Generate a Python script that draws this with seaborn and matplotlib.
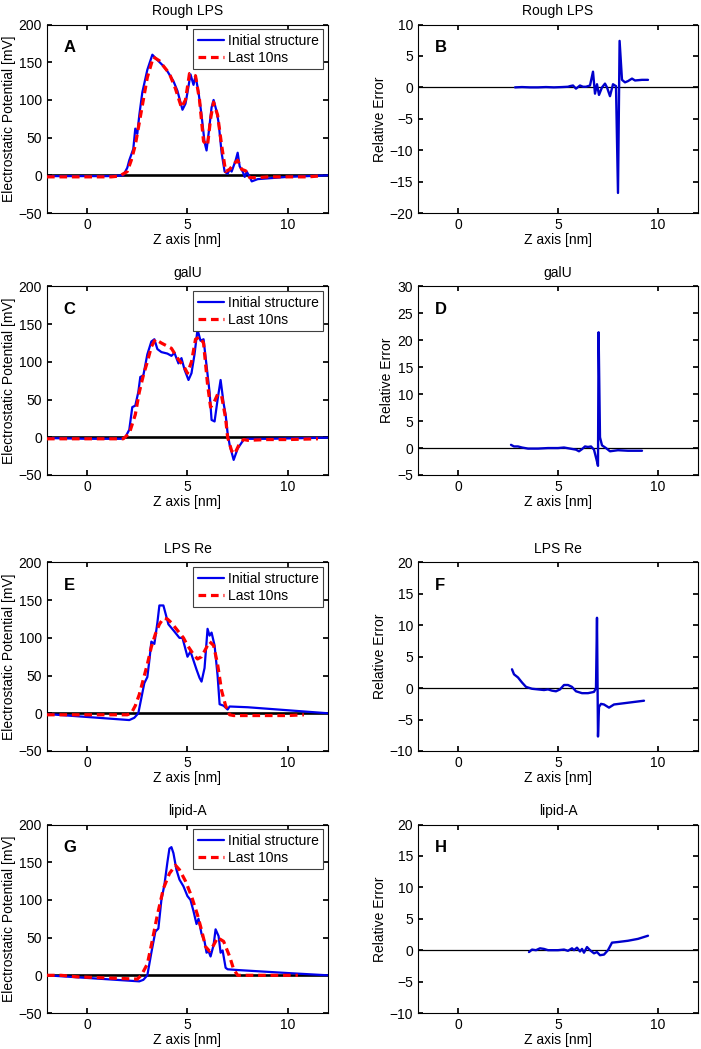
import pandas as pd
import seaborn as sns
import matplotlib
matplotlib.use("Agg")
import matplotlib.pyplot as plt

# ---- data ----
# Rough LPS
A_init_x = [-2, -1, 0, 1, 1.5, 1.8, 2.0, 2.1, 2.3, 2.4, 2.5, 2.6, 2.75, 3.0, 3.25,
            3.5, 3.8, 4.0, 4.3, 4.5, 4.75, 4.9, 5.0, 5.15, 5.3, 5.4, 5.55, 5.7, 5.85, 5.95,
            6.05, 6.2, 6.3, 6.45, 6.55, 6.7, 6.85, 7.0, 7.1, 7.2, 7.4, 7.5, 7.6, 7.75, 7.85,
            7.95, 8.1, 8.2, 8.5, 9, 10, 11, 12]
A_init_y = [-1, -1, -1, -1, -0.5, 0, 10, 20, 35, 62, 55, 80, 110, 140, 160,
            153, 145, 138, 125, 112, 87, 95, 110, 134, 120, 132, 110, 80, 44, 33,
            55, 90, 100, 85, 70, 30, 5, 2, 8, 5, 20, 30, 12, 5, -2,
            5, -2, -8, -5, -4, -2, -1, 0]
A_last_x = [-2, -1, 0, 1, 1.2, 1.6, 2.0, 2.2, 2.4, 2.6, 2.8, 3.0, 3.3, 3.6, 3.8,
            4.1, 4.4, 4.7, 4.9, 5.1, 5.4, 5.6, 5.8, 6.0, 6.15, 6.3, 6.5, 6.7, 6.9, 7.1,
            7.3, 7.5, 7.7, 7.9, 8.1, 8.5, 9, 10, 11, 11.5]
A_last_y = [-2, -2, -2, -2, -2, -1, 5, 20, 40, 70, 100, 130, 157, 152, 145,
            135, 115, 90, 100, 135, 132, 100, 45, 40, 75, 97, 80, 40, 5, 8,
            15, 20, 8, 6, -3, -3, -2, -2, -2, -1]
B_err_x = [2.85, 3.2, 3.6, 4.0, 4.4, 4.8, 5.2, 5.5, 5.6, 5.75, 5.9, 6.1, 6.25, 6.4, 6.6,
           6.75, 6.85, 6.95, 7.05, 7.2, 7.35, 7.45, 7.6, 7.75, 7.9, 8.0, 8.08, 8.2, 8.35, 8.5,
           8.7, 8.85, 9.2, 9.5]
B_err_y = [0, 0.05, 0, 0, 0.05, 0, 0.05, 0.1, 0.2, 0.3, -0.2, 0.3, 0.1, 0.1, 0.3,
           2.5, -1, 0.5, -1.2, 0, 0.6, 0, -1.4, 0.5, 0.2, -16.8, 7.4, 1.2, 0.8, 1.0,
           1.4, 1.1, 1.2, 1.2]

# galU
C_init_x = [-2, -1, 0, 1, 1.7, 1.9, 2.1, 2.25, 2.4, 2.55, 2.65, 2.8, 3.0, 3.2, 3.35,
            3.5, 3.7, 4.0, 4.2, 4.35, 4.55, 4.7, 4.85, 5.05, 5.2, 5.35, 5.5, 5.65, 5.8, 5.95,
            6.1, 6.2, 6.35, 6.5, 6.65, 6.8, 6.9, 7.0, 7.1, 7.3, 7.5, 7.8, 8, 9, 10, 11, 12]
C_init_y = [-1, -1.5, -2, -2, -2, 0, 10, 40, 42, 60, 80, 82, 110, 127, 130,
            117, 113, 111, 108, 112, 98, 105, 90, 76, 85, 110, 143, 128, 130, 95,
            60, 23, 21, 50, 76, 45, 30, 5, -10, -30, -15, -3, -2, -2, -1.5, -1, -0.5]
C_last_x = [-2, -1, 0, 1, 1.8, 2.1, 2.4, 2.6, 2.8, 3.0, 3.2, 3.4, 3.7, 4.2, 4.5,
            4.8, 5.0, 5.2, 5.4, 5.6, 5.8, 6.0, 6.15, 6.3, 6.5, 6.7, 6.9, 7.0, 7.2, 7.35,
            7.6, 7.8, 8, 9, 10, 11.5]
C_last_y = [-2, -2, -2, -2, -2, 5, 30, 60, 82, 100, 120, 130, 125, 118, 105,
            95, 85, 100, 130, 133, 125, 70, 40, 45, 57, 55, 25, 0, -18, -22,
            -8, -3, -4, -3, -3, -2]
D_err_x = [2.65, 2.8, 3.0, 3.2, 3.5, 4.0, 4.5, 5.0, 5.3, 5.6, 5.9, 6.05, 6.2, 6.35, 6.5,
           6.65, 6.8, 6.95, 7.0, 7.03, 7.1, 7.2, 7.4, 7.6, 8.0, 8.5, 9.2]
D_err_y = [0.6, 0.3, 0.3, 0.1, -0.1, -0.1, 0, 0, 0.1, -0.1, -0.3, -0.6, -0.2, 0.3, 0.2,
           0.3, -0.3, -2.5, -3.3, 21.5, 2, 0.5, 0, -0.6, -0.4, -0.5, -0.5]

# LPS Re
E_init_x = [-2, 2.1, 2.35, 2.55, 2.7, 2.85, 3.0, 3.1, 3.2, 3.35, 3.5, 3.6, 3.8, 3.9, 4.05,
            4.3, 4.6, 4.75, 4.85, 5.0, 5.15, 5.3, 5.45, 5.6, 5.7, 5.85, 6.0, 6.1, 6.2, 6.35,
            6.5, 6.6, 6.8, 7.0, 7.1, 8, 10, 12]
E_init_y = [-1, -9, -6, 0, 20, 40, 48, 70, 95, 92, 120, 143, 143, 133, 118,
            110, 100, 100, 90, 75, 82, 70, 58, 47, 42, 60, 112, 103, 107, 90,
            50, 12, 10, 5, 9, 8, 4, 0]
E_last_x = [-2, -1, 0, 1, 2.0, 2.2, 2.4, 2.6, 2.8, 3.0, 3.2, 3.4, 3.6, 3.8, 4.0,
            4.2, 4.5, 4.8, 5.0, 5.3, 5.5, 5.7, 5.9, 6.1, 6.3, 6.5, 6.7, 6.9, 7.1, 7.3,
            8, 9, 10, 10.8]
E_last_y = [-2, -2, -2, -2, -2, 0, 10, 25, 45, 65, 88, 105, 118, 126, 125,
            120, 110, 100, 90, 78, 72, 75, 85, 95, 90, 65, 30, 10, -2, -3,
            -3, -3, -3, -2]
F_err_x = [2.7, 2.8, 3.0, 3.2, 3.4, 3.7, 4.0, 4.3, 4.5, 4.7, 4.9, 5.1, 5.3, 5.5, 5.7,
           5.9, 6.2, 6.5, 6.8, 6.9, 6.95, 7.0, 7.05, 7.15, 7.3, 7.55, 7.8, 8.3, 9.3]
F_err_y = [3.0, 2.2, 1.7, 0.9, 0.2, -0.1, -0.2, -0.3, -0.2, -0.4, -0.5, -0.2, 0.5, 0.5, 0.2,
           -0.5, -0.8, -0.8, -0.6, 0, 11.2, -7.7, -3, -2.5, -2.6, -3.1, -2.6, -2.4, -2.0]

# lipid-A
G_init_x = [-2, 2.6, 2.8, 3.0, 3.2, 3.4, 3.55, 3.7, 3.85, 4.0, 4.1, 4.2, 4.3, 4.45, 4.6,
            4.8, 5.0, 5.15, 5.3, 5.45, 5.55, 5.7, 5.85, 5.95, 6.05, 6.15, 6.3, 6.4, 6.55, 6.65,
            6.75, 6.9, 7.0, 7.5, 10, 12]
G_init_y = [0, -8, -6, 0, 30, 58, 62, 100, 120, 150, 168, 170, 162, 140, 127,
            118, 105, 100, 85, 68, 75, 55, 45, 30, 32, 25, 40, 61, 52, 30,
            33, 10, 8, 7, 3, 0]
G_last_x = [-2, -1.3, -0.5, 0.5, 1.5, 2.5, 2.7, 3.0, 3.2, 3.5, 3.8, 4.1, 4.4, 4.6, 4.9,
            5.2, 5.5, 5.7, 5.9, 6.1, 6.3, 6.5, 6.8, 7.1, 7.3, 7.5, 8, 9, 10.5]
G_last_y = [0, 0, -2, -3, -4, -5, 0, 15, 40, 80, 115, 135, 146, 140, 125,
            105, 80, 60, 38, 32, 40, 50, 45, 25, 8, 0, 0, 0, 0]
H_err_x = [3.55, 3.7, 3.9, 4.1, 4.3, 4.5, 4.7, 5.0, 5.3, 5.5, 5.7, 5.8, 5.95, 6.1, 6.2,
           6.3, 6.45, 6.6, 6.8, 6.95, 7.1, 7.3, 7.5, 7.7, 8.0, 8.5, 9.0, 9.5]
H_err_y = [-0.3, 0.1, 0, 0.3, 0.2, 0, 0, 0, 0.1, -0.1, 0.3, 0, 0.4, -0.2, 0.2,
           -0.4, 0.5, 0, -0.5, -0.3, -0.8, -0.7, 0, 1.2, 1.3, 1.5, 1.8, 2.3]

titles = ["Rough LPS", "galU", "LPS Re", "lipid-A"]
left_letters = ["A", "C", "E", "G"]
right_letters = ["B", "D", "F", "H"]
pot_series = [(A_init_x, A_init_y, A_last_x, A_last_y),
              (C_init_x, C_init_y, C_last_x, C_last_y),
              (E_init_x, E_init_y, E_last_x, E_last_y),
              (G_init_x, G_init_y, G_last_x, G_last_y)]
err_series = [(B_err_x, B_err_y), (D_err_x, D_err_y), (F_err_x, F_err_y), (H_err_x, H_err_y)]
err_ylims = [(-20, 10), (-5, 30), (-10, 20), (-10, 20)]

# ---- style ----
sns.set_theme(style="ticks")
plt.rcParams['font.family'] = ['Liberation Sans', 'DejaVu Sans']
plt.rcParams.update({
    "font.size": 10, "axes.titlesize": 10, "axes.labelsize": 10,
    "xtick.labelsize": 10, "ytick.labelsize": 10, "legend.fontsize": 10,
    "xtick.direction": "in", "ytick.direction": "in",
    "xtick.top": True, "ytick.right": True,
    "xtick.major.size": 3.5, "ytick.major.size": 3.5,
    "axes.linewidth": 0.8, "axes.edgecolor": "black",
    "xtick.color": "black", "ytick.color": "black", "text.color": "black",
    "axes.labelcolor": "black",
})

fig = plt.figure(figsize=(7.01, 10.49), dpi=100)
row_bottoms = [0.7969, 0.5472, 0.2841, 0.0343]
row_height = 0.1797

for i in range(4):
    # left: electrostatic potential
    ax = fig.add_axes([0.0670, row_bottoms[i], 0.4009, row_height])
    xi, yi, xl, yl = pot_series[i]
    ax.axhline(0, color="black", lw=1.9, zorder=1)
    sns.lineplot(x=xi, y=yi, ax=ax, color="#0000ee", lw=1.6, estimator=None,
                 label="Initial structure", zorder=2)
    sns.lineplot(x=xl, y=yl, ax=ax, color="#ff0000", lw=2.3, estimator=None,
                 label="Last 10ns", zorder=3)
    ax.lines[-1].set_dashes((2.4, 1.5))
    ax.set_xlim(-2, 12)
    ax.set_ylim(-50, 200)
    ax.set_xticks([0, 5, 10])
    ax.set_yticks([-50, 0, 50, 100, 150, 200])
    ax.set_title(titles[i], pad=7)
    ax.set_xlabel("Z axis [nm]", labelpad=1)
    ax.set_ylabel("Electrostatic Potential [mV]", labelpad=2)
    leg = ax.legend(loc="upper right", fancybox=False, framealpha=1,
                    edgecolor="0.25", borderaxespad=0.35, handlelength=1.9,
                    borderpad=0.3, labelspacing=0.25, handletextpad=0.3)
    leg.get_frame().set_linewidth(0.8)
    ax.text(0.06, 0.88, left_letters[i], transform=ax.transAxes,
            fontsize=12, fontweight="bold", va="center")

    # right: relative error
    ax2 = fig.add_axes([0.5963, row_bottoms[i], 0.3994, row_height])
    ex, ey = err_series[i]
    ax2.axhline(0, color="black", lw=0.9, zorder=1)
    sns.lineplot(x=ex, y=ey, ax=ax2, color="#0000cc", lw=1.7, estimator=None, zorder=2)
    lo, hi = err_ylims[i]
    ax2.set_xlim(-2, 12)
    ax2.set_ylim(lo, hi)
    ax2.set_xticks([0, 5, 10])
    ax2.set_yticks(list(range(lo, hi + 1, 5)))
    ax2.set_title(titles[i], pad=7)
    ax2.set_xlabel("Z axis [nm]", labelpad=1)
    ax2.set_ylabel("Relative Error", labelpad=2)
    ax2.text(0.06, 0.88, right_letters[i], transform=ax2.transAxes,
             fontsize=12, fontweight="bold", va="center")

fig.savefig("out.png", dpi=100)
